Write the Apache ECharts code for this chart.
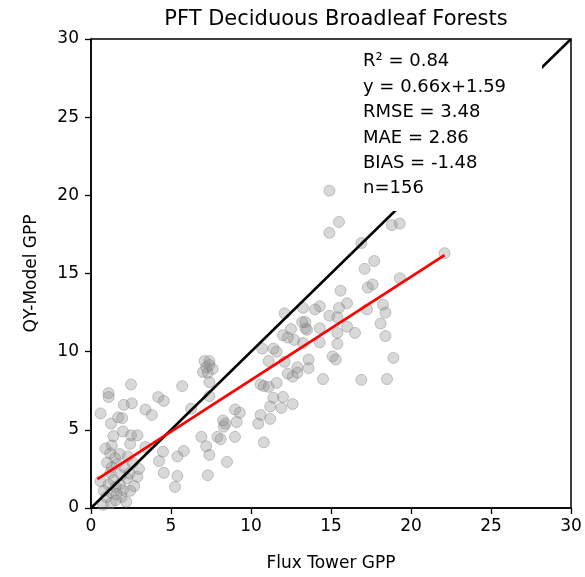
<!DOCTYPE html>
<html><head><meta charset="utf-8">
<script src="https://cdn.jsdelivr.net/npm/echarts@6/dist/echarts.min.js"></script>
<style>html,body{margin:0;padding:0;background:#fff}#c{width:585px;height:577px}</style>
</head><body><div id="c"></div>
<script>
const titleText = 'PFT Deciduous Broadleaf Forests';
const xName = 'Flux Tower GPP';
const yName = 'QY-Model GPP';
const tickValues = [0, 5, 10, 15, 20, 25, 30];
const statsLines = ['R\u00B2 = 0.84', 'y = 0.66x+1.59', 'RMSE = 3.48', 'MAE = 2.86', 'BIAS = -1.48', 'n=156'];
const fluxGPP = [22.1,18.8,19.3,14.9,15.5,14.9,16.9,17.7,17.1,19.3,17.6,17.3,15.6,16.0,15.5,14.9,14.3,15.4,17.25,18.25,18.4,18.1,14.3,15.4,16.5,18.4,14.3,15.4,15.1,15.3,14.5,16.9,18.5,18.9,
14.0,13.25,12.1,12.5,13.4,13.5,12.0,12.7,13.25,10.7,11.4,11.1,12.1,13.6,13.6,12.9,12.9,12.6,10.6,10.8,11.1,11.6,11.4,12.0,11.2,11.9,12.6,10.6,11.2,10.45,10.8,
7.1,7.4,7.4,7.0,7.3,7.4,5.7,7.4,6.25,9.0,9.3,8.25,8.4,9.1,6.9,7.9,8.1,9.0,7.2,5.8,5.4,7.4,8.5,5.4,7.3,5.25,
2.5,1.1,1.1,2.05,2.55,4.2,4.55,3.4,3.8,0.6,1.25,1.7,1.95,2.0,2.5,2.9,2.45,1.3,1.2,1.8,3.4,4.5,4.25,4.55,2.9,0.6,1.2,1.4,1.9,2.25,1.55,2.0,2.45,1.9,1.25,0.95,1.25,0.75,1.55,
1.6,2.1,1.0,2.6,1.8,1.1,2.7,0.8,2.2,
7.6,7.2,1.5,2.3,12.3,13.2,3.0,1.6,11.6,16.0,0.9,1.4,8.3,13.4,2.4,1.3,12.3];
const modelGPP = [16.3,18.1,18.2,20.3,18.3,17.6,16.95,15.8,15.3,14.7,14.3,14.1,13.9,13.1,12.8,12.3,12.9,12.2,12.7,13.0,12.5,11.8,11.5,11.2,11.2,11.0,10.6,10.5,9.7,9.5,8.25,8.2,8.25,9.6,
12.7,12.8,12.45,11.45,11.5,11.4,11.05,10.75,10.55,10.2,10.2,9.4,9.35,9.5,8.95,9.0,8.65,8.4,7.9,7.8,7.75,8.0,7.05,7.1,6.5,6.4,6.65,5.95,5.7,5.4,4.2,
9.4,9.4,9.15,8.7,8.65,8.05,7.8,7.15,6.35,6.3,6.1,5.6,5.4,5.5,4.55,4.55,4.4,4.55,3.95,3.65,3.3,3.4,2.95,2.05,2.1,1.35,
7.9,7.35,7.1,6.6,6.7,7.1,6.85,6.3,5.95,6.05,5.4,5.8,5.75,4.9,4.65,4.65,4.1,4.0,3.5,3.45,3.9,3.6,3.0,2.25,2.0,1.7,2.25,1.8,2.1,1.9,1.35,1.15,1.1,0.7,1.0,0.7,0.3,0.2,0.5,
2.8,2.6,2.9,2.9,1.5,1.5,1.4,1.1,0.4,
8.9,9.0,3.2,3.3,10.9,11.9,2.5,0.9,10.0,11.6,3.8,4.6,5.2,11.9,2.2,2.6,8.6];
const oneToOne = [[0, 0], [30, 30]];
const fitLine = [[0.4, 1.85], [22.1, 16.18]];

const chart = echarts.init(document.getElementById('c'), null, {renderer: 'canvas'});
const font = 'DejaVu Sans';
const pts = fluxGPP.map((x, i) => [x, modelGPP[i]]);
const axisCommon = {
  min: 0, max: 30, interval: 5,
  axisLine: {show: true, onZero: false, lineStyle: {color: '#000', width: 1.5}},
  axisTick: {show: true, inside: false, length: 6, lineStyle: {color: '#000', width: 1.3}},
  splitLine: {show: false},
  nameLocation: 'middle',
  nameTextStyle: {fontFamily: font, fontSize: 17, color: '#000'}
};
const lineH = 25.4;
chart.setOption({
  animation: false,
  backgroundColor: '#fff',
  title: {text: titleText, left: 331, top: 4, textAlign: 'center',
    textStyle: {fontFamily: font, fontSize: 21, fontWeight: 'normal', color: '#000'}},
  grid: {left: 91, right: 14, top: 39, bottom: 69, show: true, borderColor: '#000', borderWidth: 1.5, backgroundColor: 'transparent'},
  xAxis: Object.assign({}, axisCommon, {type: 'value', name: xName, nameGap: 47,
    axisLabel: {margin: 10, fontFamily: font, fontSize: 17, color: '#000',
      formatter: v => tickValues.includes(v) ? String(v) : ''}}),
  yAxis: Object.assign({}, axisCommon, {type: 'value', name: yName, nameGap: 51,
    axisLabel: {margin: 12, fontFamily: font, fontSize: 17, color: '#000',
      formatter: v => tickValues.includes(v) ? String(v) : ''}}),
  series: [
    {type: 'scatter', data: pts, symbolSize: 11, z: 2,
      itemStyle: {color: 'rgba(140,140,140,0.42)', borderColor: 'rgba(110,110,110,0.45)', borderWidth: 1}},
    {type: 'line', data: oneToOne, symbol: 'none', z: 3, lineStyle: {color: '#000', width: 2.5}},
    {type: 'line', data: fitLine, symbol: 'none', z: 4, lineStyle: {color: '#ff0000', width: 2.8}}
  ],
  graphic: [
    {type: 'rect', z: 100, shape: {x: 356, y: 45, width: 186, height: 166}, style: {fill: '#fff'}},
    {type: 'text', z: 101, left: 363, top: 49,
      style: {text: statsLines.join('\n'), fontFamily: font, fontSize: 18, lineHeight: lineH, fill: '#000'}}
  ]
});
</script></body></html>
